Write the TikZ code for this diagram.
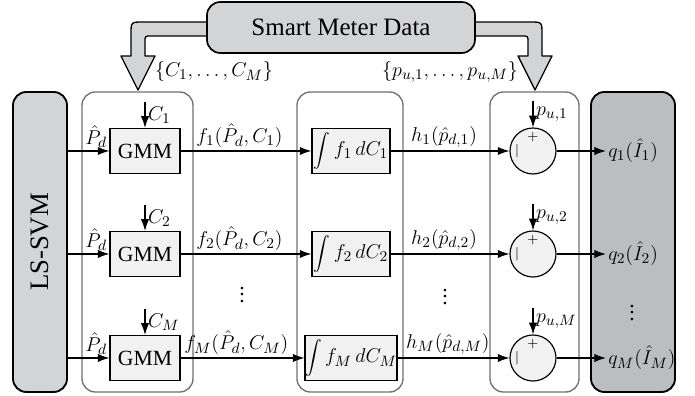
\documentclass[tikz,border=0pt]{standalone}
\usepackage{fontspec}
\setmainfont{Liberation Serif}
\usetikzlibrary{arrows.meta,positioning,calc}
\definecolor{boxgray}{HTML}{D3D4D6}
\definecolor{outgray}{HTML}{BCBDC0}
\definecolor{blockfill}{HTML}{F1F1F2}
\definecolor{framegray}{HTML}{707070}
\begin{document}
\begin{tikzpicture}[>={Latex[length=7pt,width=5pt]},x=0.6pt,y=-0.6pt,
  line width=0.7pt,
  lbl/.style={font={\fontsize{13}{15}\selectfont},inner sep=1.5pt},
  databox/.style={draw,line width=1pt,fill=boxgray,rounded corners=8pt,font={\fontsize{15}{17}\selectfont}},
  sidebox/.style={draw,line width=1.1pt,fill=boxgray,rounded corners=8pt,minimum height=180pt},
  outbox/.style={draw,line width=1.1pt,fill=outgray,rounded corners=8pt,minimum height=180pt},
  grpframe/.style={draw=framegray,line width=0.8pt,rounded corners=8pt,minimum height=180pt},
  gmmbox/.style={draw,fill=blockfill,minimum width=42pt,minimum height=27pt,inner sep=0pt,font={\fontsize{13}{15}\selectfont}},
  intbox/.style={draw,fill=blockfill,minimum width=46.8pt,minimum height=27pt,inner sep=0pt,font={\fontsize{12.5}{14}\selectfont}},
  sumnode/.style={draw,circle,fill=blockfill,minimum size=27.6pt,inner sep=0pt},
  sign/.style={font=\footnotesize,inner sep=0pt},
  bigarrow/.style={draw,line width=0.8pt,fill=boxgray,line join=round}]
\useasboundingbox (0,0) rectangle (695,396);
% thick data arrows
\draw[bigarrow] (215,22) -- (143,22) .. controls (131,22) .. (131,34) -- (131,56) -- (121,56) -- (138,90) -- (155,56) -- (145,56) -- (145,42) .. controls (145,36) .. (151,36) -- (215,36);
\draw[bigarrow] (468,22) -- (530,22) .. controls (542,22) .. (542,34) -- (542,56) -- (552,56) -- (535,90) -- (518,56) -- (528,56) -- (528,42) .. controls (528,36) .. (522,36) -- (468,36);
\node[databox,minimum width=160.8pt,minimum height=30.6pt] (smart) at (341,27.5) {Smart Meter Data};
\node[lbl,anchor=west] (clist) at (152,72) {$\{C_1,\ldots,C_M\}$};
\node[lbl,anchor=east] (plist) at (521,72) {$\{p_{u,1},\ldots,p_{u,M}\}$};
% column frames
\node[sidebox,minimum width=32.4pt] (lssvm) at (40,242) {};
\node[rotate=90,font={\fontsize{16}{18}\selectfont}] (lssvmtext) at (lssvm) {LS-SVM};
\node[grpframe,minimum width=66.6pt] (gmmgrp) at (137.5,242) {};
\node[grpframe,minimum width=63.6pt] (intgrp) at (350,242) {};
\node[grpframe,minimum width=53.4pt] (sumgrp) at (534.5,242) {};
\node[outbox,minimum width=50.4pt] (outgrp) at (633,242) {};
% one row per cluster
\foreach \i/\y in {1/151,2/254,M/358} {
  \node[gmmbox] (gmm\i) at (145,\y) {GMM};
  \node[intbox] (int\i) at (351,\y) {$\displaystyle\int f_{\i}\,dC_{\i}$};
  \node[sumnode] (sum\i) at (533,\y) {};
  \node[sign] (plus\i) at ($(sum\i)+(0,-14)$) {$+$};
  \node[sign] (minus\i) at ($(sum\i)+(-16,0)$) {$|$};
  \node[lbl,anchor=west,inner sep=1pt] (q\i) at (606,\y) {$q_{\i}(\hat I_{\i})$};
  \coordinate (cin\i) at ($(gmm\i.north)+(0,-26)$);
  \coordinate (pin\i) at ($(sum\i.north)+(0,-26)$);
  \draw[->] (cin\i) -- (gmm\i) node[lbl,midway,right] {$C_{\i}$};
  \draw[->] (pin\i) -- (sum\i) node[lbl,midway,right] {$p_{u,\i}$};
  \draw[->] (lssvm.east |- gmm\i) -- (gmm\i) node[lbl,pos=0.68,above] {$\hat P_d$};
  \draw[->] (gmm\i) -- (int\i) node[lbl,pos=0.45,above] {$f_{\i}(\hat P_d,C_{\i})$};
  \draw[->] (int\i) -- (sum\i) node[lbl,pos=0.45,above] {$h_{\i}(\hat p_{d,\i})$};
  \draw[->] (sum\i) -- (q\i);
}
\node[lbl] (vdotsa) at (242,290) {$\vdots$};
\node[lbl] (vdotsb) at (445,292) {$\vdots$};
\node[lbl] (vdotsc) at (632,308) {$\vdots$};
\end{tikzpicture}
\end{document}
